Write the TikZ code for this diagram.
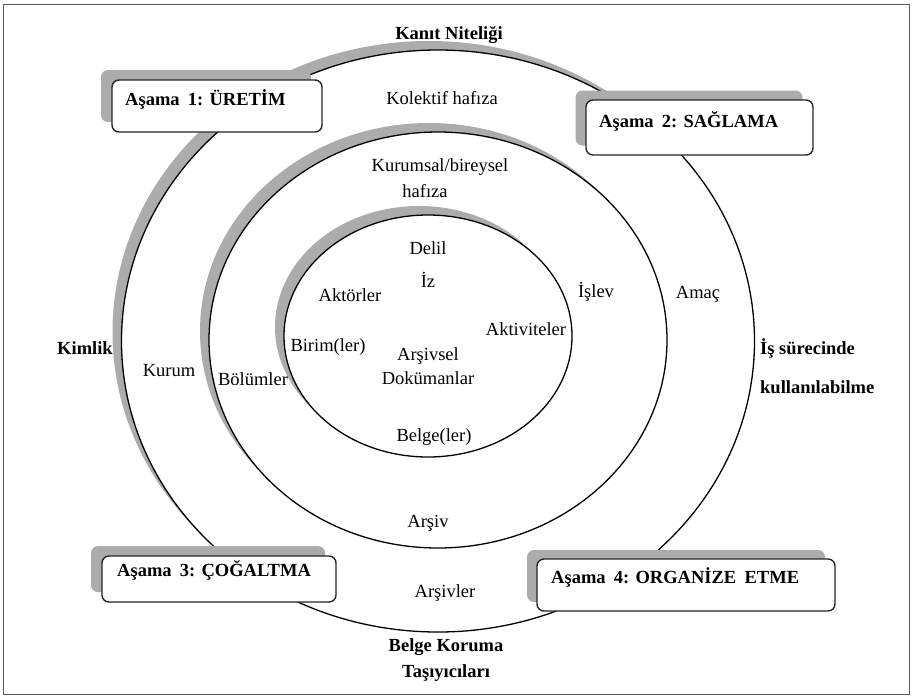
\documentclass[tikz,border=0pt]{standalone}
\usepackage{fontspec}
\setmainfont{Liberation Serif}
\usetikzlibrary{shapes.geometric}
\definecolor{shadowgray}{RGB}{172,172,172}
\definecolor{framegray}{RGB}{90,90,90}
\tikzset{
  ring/.style={ellipse, draw=black, line width=1.3pt, fill=white, inner sep=0pt},
  ringshadow/.style={ellipse, fill=shadowgray, inner sep=0pt},
  stagebox/.style={rectangle, rounded corners=7pt, draw=black!85, line width=1.4pt, fill=white, inner sep=0pt},
  stageshadow/.style={rectangle, rounded corners=7pt, fill=shadowgray, inner sep=0pt},
  lbl/.style={inner sep=0pt, text height=13pt, text depth=4pt, font=\fontsize{18.5}{22}\selectfont},
  blbl/.style={lbl, font=\fontsize{18.5}{22}\selectfont\bfseries},
}
\newcommand{\wsp}{\hspace{0.45em}}
\begin{document}
\begin{tikzpicture}[x=1pt,y=-1pt]
\useasboundingbox (0,0) rectangle (912,697);
% outer frame
\node[draw=framegray, line width=1.3pt, minimum width=906pt, minimum height=690pt, inner sep=0pt] (frame) at (456.5,349.5) {};

% three nested rings, each with its shadow shifted up and left
\node[ringshadow, minimum width=633pt, minimum height=582pt] (outersh) at (429,332) {};
\node[ring, minimum width=633pt, minimum height=582pt] (outer) at (438,341) {};
\node[ringshadow, minimum width=458pt, minimum height=416pt] (middlesh) at (429,331) {};
\node[ring, minimum width=458pt, minimum height=416pt] (middle) at (438,340) {};
\node[ringshadow, minimum width=288pt, minimum height=242pt] (innersh) at (419,327) {};
\node[ring, minimum width=288pt, minimum height=242pt] (inner) at (428,336) {};

% stage boxes
\node[stageshadow, minimum width=210pt, minimum height=52pt] (s1sh) at (206,96) {};
\node[stagebox, minimum width=210pt, minimum height=52pt] (s1) at (217,106) {};
\node[blbl, anchor=west] (s1t) at (125,101) {Aşama\wsp 1: ÜRETİM};

\node[stageshadow, minimum width=227pt, minimum height=55pt] (s2sh) at (689,118) {};
\node[stagebox, minimum width=227pt, minimum height=55pt] (s2) at (699.5,127.5) {};
\node[blbl, anchor=west] (s2t) at (599,123) {Aşama\wsp 2: SAĞLAMA};

\node[stageshadow, minimum width=234pt, minimum height=46pt] (s3sh) at (208,569) {};
\node[stagebox, minimum width=234pt, minimum height=46pt] (s3) at (219,579) {};
\node[blbl, anchor=west] (s3t) at (117,572) {Aşama\wsp 3: ÇOĞALTMA};

\node[stageshadow, minimum width=298pt, minimum height=52pt] (s4sh) at (676,576) {};
\node[stagebox, minimum width=298pt, minimum height=52pt] (s4) at (686,585) {};
\node[blbl, anchor=west] (s4t) at (551,579) {Aşama\wsp 4: ORGANİZE\wsp ETME};

% labels
\node[blbl] (kanit) at (449,35) {Kanıt Niteliği};
\node[lbl] (kolektif) at (442,100) {Kolektif hafıza};
\node[lbl] (kurumsal) at (440,167) {Kurumsal/bireysel};
\node[lbl] (hafiza) at (425,193) {hafıza};
\node[lbl] (delil) at (428,250) {Delil};
\node[lbl] (iz) at (428,283) {İz};
\node[lbl] (aktorler) at (350,297) {Aktörler};
\node[lbl] (islev) at (596,293) {İşlev};
\node[lbl] (amac) at (698,294) {Amaç};
\node[lbl] (aktiviteler) at (526,331) {Aktiviteler};
\node[lbl] (birim) at (328,347) {Birim(ler)};
\node[blbl] (kimlik) at (85,350) {Kimlik};
\node[lbl] (arsivsel) at (428,356) {Arşivsel};
\node[lbl] (dokuman) at (428,380) {Dokümanlar};
\node[lbl] (kurum) at (169,372) {Kurum};
\node[lbl] (bolum) at (253,381) {Bölümler};
\node[blbl, anchor=west] (surec) at (760,350) {İş sürecinde};
\node[blbl, anchor=west] (kullan) at (760,389) {kullanılabilme};
\node[lbl] (belgeler) at (434,437) {Belge(ler)};
\node[lbl] (arsiv) at (428,523) {Arşiv};
\node[lbl] (arsivler) at (445,593) {Arşivler};
\node[blbl] (koruma) at (446,647) {Belge Koruma};
\node[blbl] (tasiyici) at (446,673) {Taşıyıcıları};
\end{tikzpicture}
\end{document}
